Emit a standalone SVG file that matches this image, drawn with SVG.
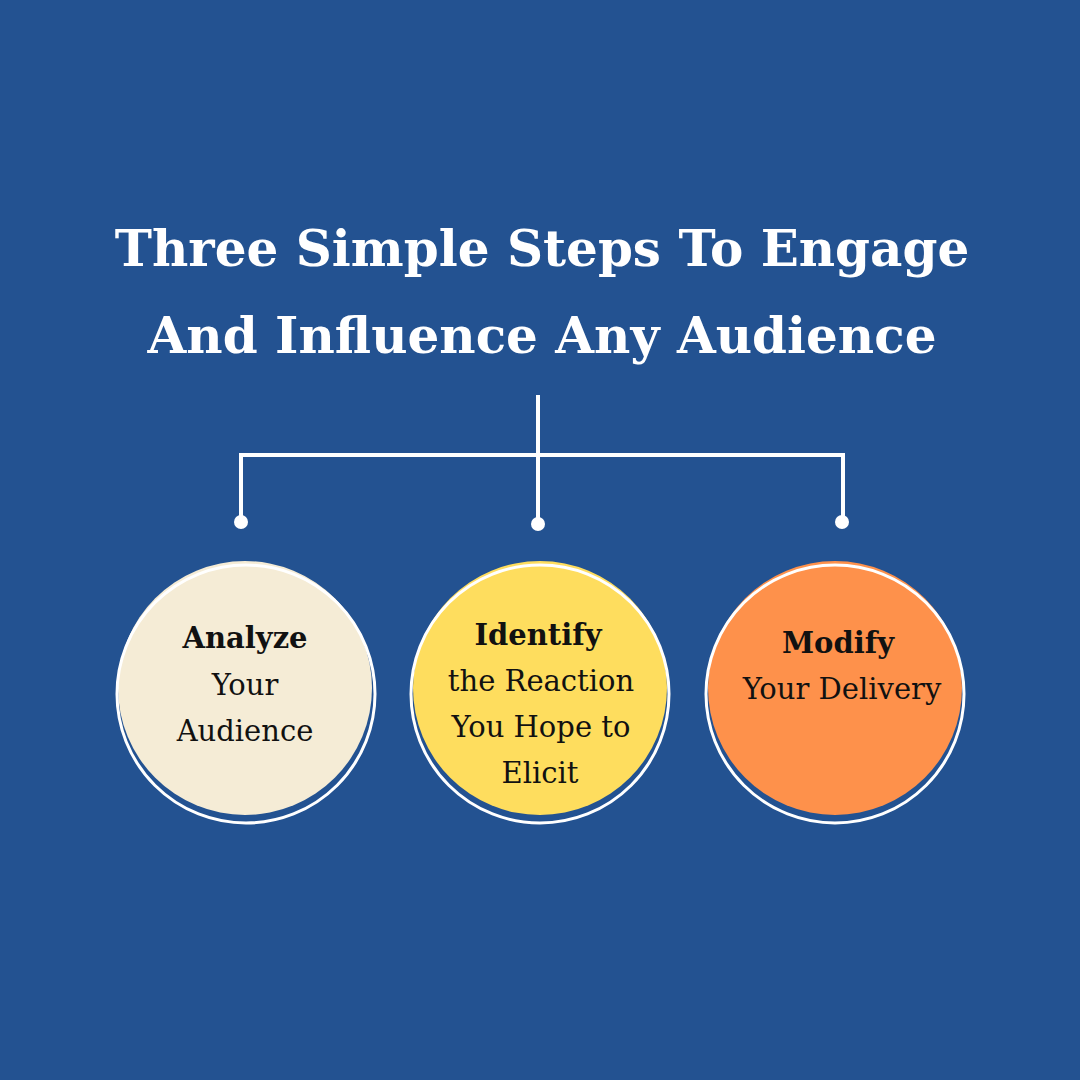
<svg xmlns="http://www.w3.org/2000/svg" width="1080" height="1080" viewBox="0 0 1080 1080">
<style>
.t{font-family:"DejaVu Serif","Liberation Serif",serif;fill:#fff;font-weight:bold;font-size:50px;text-anchor:middle}
.l{font-family:"DejaVu Serif","Liberation Serif",serif;fill:#111;font-size:29px;text-anchor:middle}
.b{font-weight:bold}
.ring{fill:none;stroke:#fff;stroke-width:3}
.c{stroke:#fff;stroke-width:4;fill:none}
</style>
<rect width="1080" height="1080" fill="#235291"/>
<g id="title"><text class="t" x="542" y="266">Three Simple Steps To Engage</text><text class="t" x="542" y="353">And Influence Any Audience</text></g>
<g id="connectors">
<path class="c" d="M538 395V455M241 522V455H843V522M538 455V522"/>
<circle cx="241" cy="522" r="7" fill="#fff"/><circle cx="538" cy="524" r="7" fill="#fff"/><circle cx="842" cy="522" r="7" fill="#fff"/>
</g>
<g id="n1"><circle cx="245" cy="688" r="127" fill="#f5ecd6"/><circle class="ring" cx="246" cy="694" r="129"/>
<text class="l b" x="245" y="648">Analyze</text><text class="l" x="245" y="695">Your</text><text class="l" x="245" y="741">Audience</text></g>
<g id="n2"><circle cx="540" cy="688" r="127" fill="#fedd5e"/><circle class="ring" cx="540" cy="694" r="129"/>
<text class="l b" x="538" y="645">Identify</text><text class="l" x="541" y="691">the Reaction</text><text class="l" x="541" y="737">You Hope to</text><text class="l" x="540" y="783">Elicit</text></g>
<g id="n3"><circle cx="835" cy="688" r="127" fill="#fe914b"/><circle class="ring" cx="835" cy="694" r="129"/>
<text class="l b" x="838" y="653">Modify</text><text class="l" x="842" y="699">Your Delivery</text></g>
</svg>
